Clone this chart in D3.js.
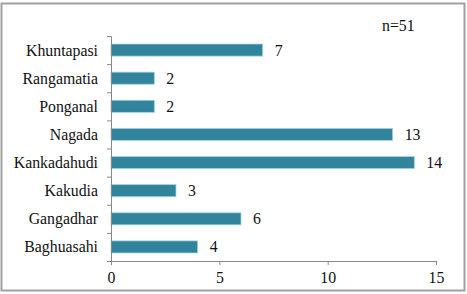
<!DOCTYPE html>
<html>
<head>
<meta charset="utf-8">
<script src="https://cdn.jsdelivr.net/npm/d3@7"></script>
<style>
  body { margin: 0; background: #fff; }
</style>
</head>
<body>
<svg id="chart" width="467" height="294"></svg>
<script>
// villages, top to bottom as drawn
var villages = ["Khuntapasi", "Rangamatia", "Ponganal", "Nagada", "Kankadahudi", "Kakudia", "Gangadhar", "Baghuasahi"]
var counts = [7, 2, 2, 13, 14, 3, 6, 4]
var xTicks = [0, 5, 10, 15]

var serif = "'Liberation Serif'"
var fs = "15.8px"
var svg = d3.select("#chart")

// outer frame
svg.append("rect")
    .attr("x", 1.5).attr("y", 3.5)
    .attr("width", 463).attr("height", 287)
    .attr("fill", "#fff")
    .attr("stroke", "#a0a0a0")
    .attr("stroke-width", 2)

var x = d3.scaleLinear().domain([0, 15]).range([111, 436])
var y = d3.scaleBand().domain(villages).range([36, 261]).paddingInner(0.57).paddingOuter(0.285)

// bars
svg.selectAll(".bar").data(villages).join("rect")
    .attr("class", "bar")
    .attr("x", x(0))
    .attr("y", d => y(d))
    .attr("width", (d, i) => x(counts[i]) - x(0))
    .attr("height", y.bandwidth())
    .attr("fill", "#31849b")
    .attr("stroke", "#9fd6e2")
    .attr("stroke-width", 0.8)

// value labels
svg.selectAll(".val").data(villages).join("text")
    .attr("class", "val")
    .attr("x", (d, i) => x(counts[i]) + 12)
    .attr("y", d => y(d) + y.bandwidth() / 2)
    .attr("dy", "0.35em")
    .attr("fill", "#111")
    .style("font-family", serif)
    .style("font-size", fs)
    .text((d, i) => counts[i])

// y axis
var yAxis = d3.axisLeft(d3.scaleLinear().domain([0, 8]).range([261, 36]))
    .tickValues(d3.range(0, 9)).tickSize(4).tickFormat("")
var gy = svg.append("g").attr("transform", "translate(" + x(0) + ",0)").call(yAxis)
gy.selectAll("path, line").attr("stroke", "#888")

svg.selectAll(".cat").data(villages).join("text")
    .attr("class", "cat")
    .attr("x", 98)
    .attr("y", d => y(d) + y.bandwidth() / 2)
    .attr("dy", "0.35em")
    .attr("text-anchor", "end")
    .attr("fill", "#111")
    .style("font-family", serif)
    .style("font-size", fs)
    .text(d => d)

// x axis
var xAxis = d3.axisBottom(x).tickValues(xTicks).tickSize(4).tickSizeOuter(4)
var gx = svg.append("g").attr("transform", "translate(0,261)").call(xAxis)
gx.selectAll("path, line").attr("stroke", "#888")
gx.selectAll("text")
    .attr("y", 22)
    .attr("dy", null)
    .attr("fill", "#111")
    .style("font-family", serif)
    .style("font-size", fs)

// sample size note
svg.append("text")
    .attr("x", 382).attr("y", 31)
    .attr("fill", "#111")
    .style("font-family", serif)
    .style("font-size", fs)
    .text("n=51")
</script>
</body>
</html>
